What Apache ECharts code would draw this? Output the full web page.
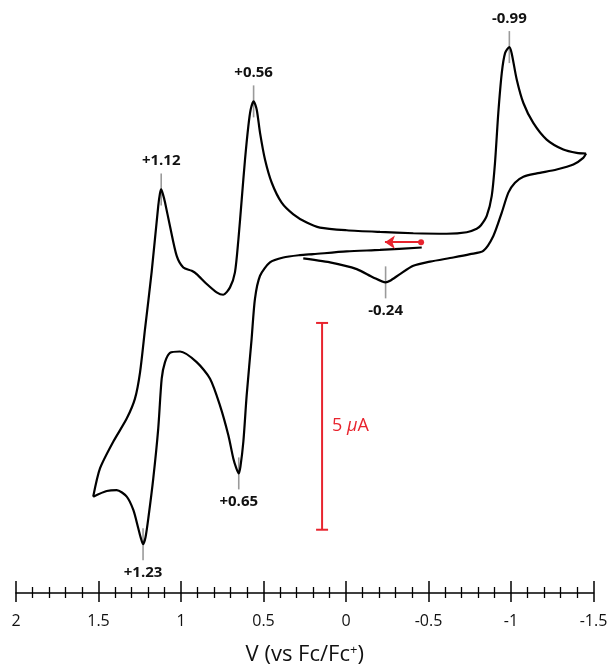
<!DOCTYPE html>
<html>
<head>
<meta charset="utf-8">
<script src="https://cdn.jsdelivr.net/npm/echarts@6/dist/echarts.min.js"></script>
<style>
  html, body { margin: 0; padding: 0; background: #fff; }
  #chart { width: 615px; height: 671px; }
</style>
</head>
<body>
<div id="chart"></div>
<script>
// Cyclic voltammogram: potential (V vs Fc/Fc+) against current (µA).
// First sweep, from the rest potential towards positive potentials.
const sweepPositive = [
  [-0.459, -0.146], [-0.206, -0.204], [-0.004, -0.242], [0.198, -0.307],
  [0.279, -0.331], [0.380, -0.387], [0.461, -0.507], [0.521, -0.830],
  [0.552, -1.392], [0.572, -2.355], [0.602, -3.722], [0.622, -4.837],
  [0.640, -5.450], [0.65, -5.608], [0.665, -5.480], [0.683, -5.247],
  [0.713, -4.686], [0.764, -3.963], [0.824, -3.319], [0.905, -2.917],
  [1.006, -2.661], [1.067, -2.693], [1.097, -2.917], [1.117, -3.319],
  [1.138, -4.524], [1.168, -5.729], [1.198, -6.693], [1.215, -7.150],
  [1.23, -7.320], [1.245, -7.150], [1.259, -6.934], [1.289, -6.493],
  [1.329, -6.170], [1.390, -6.011], [1.450, -6.035], [1.532, -6.170]
];
// Return sweep, from the positive vertex to the negative vertex.
const sweepNegative = [
  [1.532, -6.170], [1.491, -5.488], [1.410, -4.837], [1.329, -4.283],
  [1.279, -3.801], [1.248, -3.158], [1.218, -2.114], [1.178, -0.741],
  [1.138, 0.857], [1.128, 1.150], [1.12, 1.259], [1.110, 1.150],
  [1.097, 0.946], [1.067, 0.375], [1.026, -0.348], [0.986, -0.628],
  [0.935, -0.710], [0.905, -0.789], [0.844, -1.030], [0.784, -1.230],
  [0.744, -1.288], [0.703, -1.110], [0.673, -0.748], [0.652, 0.054],
  [0.632, 1.018], [0.612, 1.982], [0.592, 2.784], [0.578, 3.187],
  [0.56, 3.387], [0.541, 3.187], [0.521, 2.625], [0.491, 1.982],
  [0.450, 1.420], [0.390, 0.939], [0.319, 0.657], [0.238, 0.457],
  [0.158, 0.336], [-0.004, 0.271], [-0.206, 0.230], [-0.408, 0.199],
  [-0.610, 0.187], [-0.732, 0.223], [-0.792, 0.307], [-0.818, 0.392],
  [-0.853, 0.616], [-0.883, 1.098], [-0.903, 1.902], [-0.923, 3.107],
  [-0.944, 4.071], [-0.964, 4.553], [-0.99, 4.700], [-1.004, 4.553],
  [-1.035, 3.910], [-1.075, 3.348], [-1.135, 2.866], [-1.216, 2.464],
  [-1.317, 2.223], [-1.398, 2.143], [-1.455, 2.127]
];
// Final sweep, from the negative vertex back towards positive potentials.
const sweepReturn = [
  [-1.455, 2.127], [-1.438, 2.023], [-1.378, 1.861], [-1.277, 1.741],
  [-1.156, 1.645], [-1.075, 1.565], [-1.024, 1.420], [-0.984, 1.180],
  [-0.944, 0.698], [-0.893, 0.134], [-0.832, -0.228], [-0.752, -0.307],
  [-0.650, -0.387], [-0.509, -0.488], [-0.408, -0.589], [-0.327, -0.789],
  [-0.267, -0.951], [-0.24, -0.989], [-0.165, -0.869], [-0.065, -0.669],
  [0.097, -0.507], [0.259, -0.411]
];

// Labelled peak potentials (V) with the current at each peak (µA).
const peakPotentials = [1.12, 0.56, -0.99, 1.23, 0.65, -0.24];
const peakCurrents   = [1.259, 3.387, 4.700, -7.320, -5.608, -0.989];
const peakAbove      = [true, true, true, false, false, false];

// Scale bar: 5 µA, drawn at a fixed potential.
const scaleBarPotential = 0.145;
const scaleBarTop = -1.97;
const scaleBarSpan = 5;

// Sweep-direction arrow: start and end potentials, current level.
const arrowFrom = [-0.455, -0.018];
const arrowTo = [-0.236, -0.018];

const FONT = '"Open Sans", "Noto Sans", sans-serif';
const RED = '#e8242e';

const fmtPeak = v => (v > 0 ? '+' : '') + v.toFixed(2);

const peakData = peakPotentials.map((v, i) => ({
  value: [v, peakCurrents[i]],
  label: { position: peakAbove[i] ? 'top' : 'bottom', distance: 5 }
}));

const curveStyle = { color: '#000', width: 2.2 };

const chart = echarts.init(document.getElementById('chart'), null, { renderer: 'canvas' });

const baseX = {
  type: 'value', min: -1.5, max: 2, interval: 0.5, inverse: true,
  splitLine: { show: false }
};

chart.setOption({
  animation: false,
  backgroundColor: '#fff',
  grid: { left: 16, right: 21.5, top: 14, bottom: 76 },
  xAxis: [
    Object.assign({}, baseX, {
      position: 'bottom',
      axisLine: { show: true, onZero: false, lineStyle: { color: '#000', width: 1.5 } },
      axisTick: { show: true, inside: false, length: 9, lineStyle: { color: '#000', width: 1.5 } },
      minorTick: { show: true, splitNumber: 5, length: 5, lineStyle: { color: '#000', width: 1.3 } },
      axisLabel: { color: '#111', fontSize: 16, fontFamily: FONT, margin: 20 },
      name: '{a|V (vs Fc/Fc}{s|+}{a|)}',
      nameLocation: 'middle',
      nameGap: 51,
      nameTextStyle: {
        rich: {
          a: { fontSize: 22, fontFamily: FONT, color: '#111' },
          s: { fontSize: 13, fontFamily: FONT, color: '#111', verticalAlign: 'top', padding: [0, 0, 8, 0] }
        }
      }
    }),
    Object.assign({}, baseX, {
      position: 'bottom',
      axisLine: { show: false, onZero: false },
      axisTick: { show: true, inside: true, length: 12, lineStyle: { color: '#000', width: 1.5 } },
      minorTick: { show: true, splitNumber: 5, length: 6, lineStyle: { color: '#000', width: 1.3 } },
      axisLabel: { show: false }
    })
  ],
  yAxis: {
    type: 'value', min: -8.5, max: 5.5, show: false,
    splitLine: { show: false }
  },
  series: [
    { type: 'line', data: sweepPositive, smooth: 0.25, symbol: 'none', lineStyle: curveStyle, z: 3 },
    { type: 'line', data: sweepNegative, smooth: 0.25, symbol: 'none', lineStyle: curveStyle, z: 3 },
    { type: 'line', data: sweepReturn, smooth: 0.25, symbol: 'none', lineStyle: curveStyle, z: 3 },
    {
      type: 'scatter', data: peakData, symbol: 'rect', symbolSize: [1.6, 32],
      itemStyle: { color: '#9a9a9a', opacity: 1 }, z: 2,
      label: {
        show: true, color: '#111', fontSize: 15, fontWeight: 'bold', fontFamily: FONT, opacity: 1,
        formatter: p => fmtPeak(p.value[0])
      }
    },
    {
      type: 'line',
      data: [[scaleBarPotential, scaleBarTop], [scaleBarPotential, scaleBarTop - scaleBarSpan]],
      symbol: 'rect', symbolSize: [12, 2], lineStyle: { color: RED, width: 2 },
      itemStyle: { color: RED }, z: 4
    },
    {
      type: 'scatter',
      data: [[scaleBarPotential, scaleBarTop - scaleBarSpan / 2]],
      symbolSize: 0,
      itemStyle: { opacity: 1 },
      label: {
        show: true, position: 'right', distance: 10, opacity: 1,
        formatter: '{n|' + scaleBarSpan + ' }{m|μ}{n|A}',
        rich: {
          n: { fontSize: 18, color: RED, fontFamily: FONT },
          m: { fontSize: 18, color: RED, fontFamily: FONT, fontStyle: 'italic' }
        }
      }
    },
    {
      type: 'lines', coordinateSystem: 'cartesian2d',
      data: [{ coords: [arrowFrom, arrowTo] }],
      symbol: ['circle', 'arrow'], symbolSize: [6, 10],
      lineStyle: { color: RED, width: 1.8, opacity: 1 },
      z: 5
    }
  ]
});
</script>
</body>
</html>
